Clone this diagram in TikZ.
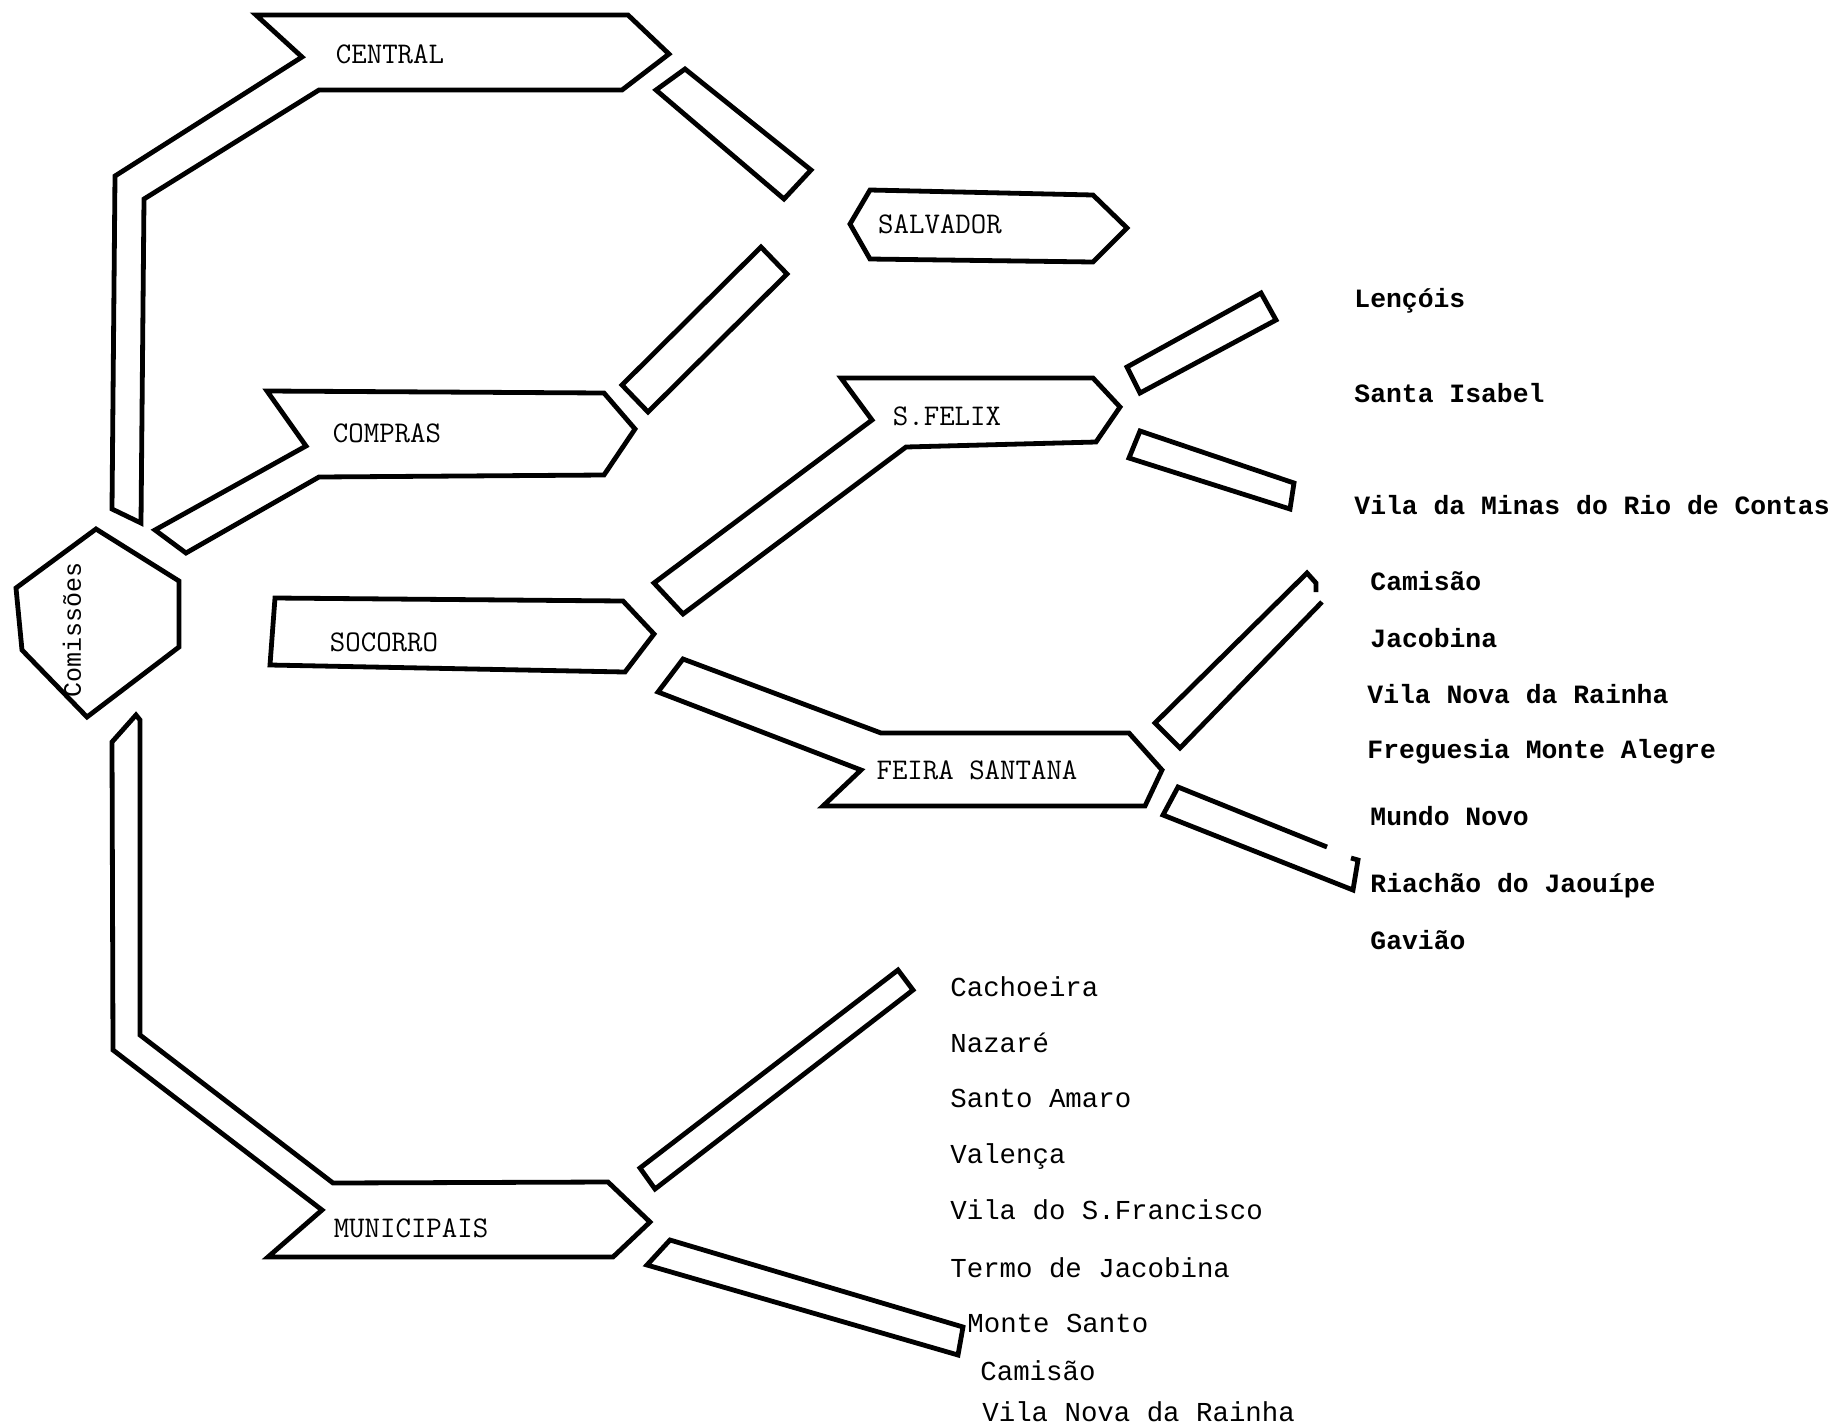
\documentclass[tikz,border=0pt]{standalone}
\usepackage{fontspec}
\newfontfamily\rfont{Liberation Mono}
\begin{document}
\begin{tikzpicture}[x=0.5pt,y=-0.5pt,
  shp/.style={draw=black,line width=2.4pt,line join=miter},
  lbl/.style={font=\ttfamily\addfontfeatures{FakeBold=1.2}\fontsize{15}{18}\selectfont,inner sep=0pt},
  rl/.style={anchor=base west,inner sep=0pt,font=\rfont\bfseries\fontsize{13.2}{16}\selectfont},
  ll/.style={anchor=base west,inner sep=0pt,font=\rfont\fontsize{13.7}{16}\selectfont}]
\useasboundingbox (0,0) rectangle (1838,1425);

% CENTRAL with upper trunk
\draw[shp] (256,15) -- (628,15) -- (669,54) -- (622,90) -- (319,90) -- (144,199)
  -- (141,523) -- (112,509) -- (115,176) -- (302,57) -- cycle;
\draw[shp] (656,90) -- (685,69) -- (811,170) -- (784,199) -- cycle;

% COMPRAS
\draw[shp] (267,391) -- (604,393) -- (635,429) -- (604,475) -- (319,477) -- (186,553)
  -- (155,530) -- (306,446) -- cycle;
\draw[shp] (622,385) -- (761,247) -- (787,274) -- (648,412) -- cycle;

% Comissoes hexagon
\draw[shp] (96,529) -- (179,581) -- (179,647) -- (87,717) -- (22,650) -- (16,588) -- cycle;

% SOCORRO
\draw[shp] (275,598) -- (623,601) -- (654,634) -- (625,672) -- (270,665) -- cycle;

% lower trunk and MUNICIPAIS
\draw[shp] (112,742) -- (136,715) -- (140,720) -- (140,1035) -- (333,1183) -- (608,1182)
  -- (650,1222) -- (613,1257) -- (268,1257) -- (322,1210) -- (113,1050) -- cycle;
\draw[shp] (640,1168) -- (898,970) -- (913,990) -- (655,1189) -- cycle;
\draw[shp] (670,1240) -- (963,1327) -- (958,1355) -- (647,1265) -- cycle;

% SALVADOR
\draw[shp] (870,190) -- (1093,195) -- (1127,228) -- (1093,262) -- (870,259) -- (850,224) -- cycle;

% S.FELIX band
\draw[shp] (841,378) -- (1093,378) -- (1120,407) -- (1096,442) -- (906,447) -- (683,614)
  -- (654,583) -- (872,420) -- cycle;
\draw[shp] (1127,367) -- (1261,293) -- (1276,320) -- (1140,393) -- cycle;
\draw[shp] (1140,431) -- (1294,483) -- (1290,509) -- (1129,458) -- cycle;

% FEIRA SANTANA band
\draw[shp] (683,659) -- (881,733) -- (1129,733) -- (1162,770) -- (1145,806) -- (823,806)
  -- (861,770) -- (658,692) -- cycle;
\draw[shp] (1322,602) -- (1180,748) -- (1155,723) -- (1307,573) -- (1316,583) -- (1316,592);
\draw[shp] (1327,847) -- (1178,787) -- (1163,815) -- (1353,890) -- (1358,860) -- (1351,858);

% box labels
\node[lbl] (central) at (390,54) {CENTRAL};
\node[lbl] (compras) at (387,433) {COMPRAS};
\node[lbl] (socorro) at (384,642) {SOCORRO};
\node[lbl] (munic) at (411,1228) {MUNICIPAIS};
\node[lbl] (salv) at (940,224) {SALVADOR};
\node[lbl] (sfelix) at (947,416) {S.FELIX};
\node[lbl] (feira) at (977,770) {FEIRA SANTANA};
\node[inner sep=0pt,rotate=90,font=\rfont\fontsize{12.5}{15}\selectfont] (comis) at (72,630) {Comissões};

% right list
\node[rl] (r1) at (1354,307) {Lençóis};
\node[rl] (r2) at (1354,402) {Santa Isabel};
\node[rl] (r3) at (1354,514) {Vila da Minas do Rio de Contas};
\node[rl] (r4) at (1370,590) {Camisão};
\node[rl] (r5) at (1370,647) {Jacobina};
\node[rl] (r6) at (1367,703) {Vila Nova da Rainha};
\node[rl] (r7) at (1367,758) {Freguesia Monte Alegre};
\node[rl] (r8) at (1370,825) {Mundo Novo};
\node[rl] (r9) at (1370,892) {Riachão do Jaouípe};
\node[rl] (r10) at (1370,949) {Gavião};

% lower list
\node[ll] (m1) at (950,996) {Cachoeira};
\node[ll] (m2) at (950,1052) {Nazaré};
\node[ll] (m3) at (950,1107) {Santo Amaro};
\node[ll] (m4) at (950,1163) {Valença};
\node[ll] (m5) at (950,1219) {Vila do S.Francisco};
\node[ll] (m6) at (950,1277) {Termo de Jacobina};
\node[ll] (m7) at (967,1332) {Monte Santo};
\node[ll] (m8) at (980,1380) {Camisão};
\node[ll] (m9) at (982,1421) {Vila Nova da Rainha};
\end{tikzpicture}
\end{document}
